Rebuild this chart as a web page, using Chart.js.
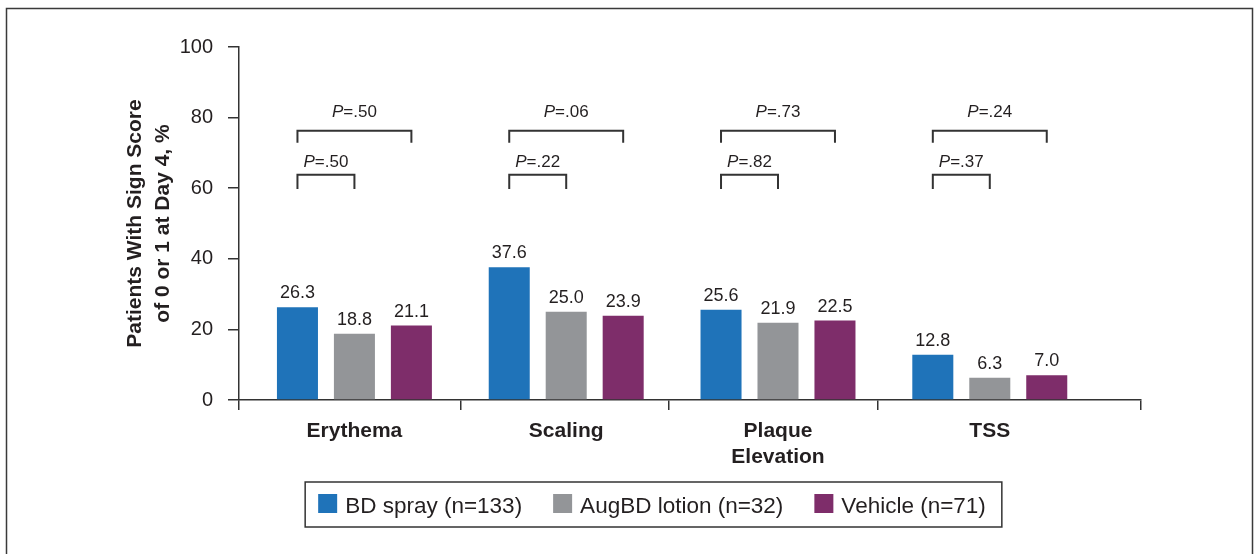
<!DOCTYPE html>
<html>
<head>
<meta charset="utf-8">
<script src="https://cdn.jsdelivr.net/npm/chart.js@4.4.1/dist/chart.umd.min.js"></script>
<style>
  html, body { margin: 0; padding: 0; background: #fff; }
  canvas { display: block; }
</style>
</head>
<body>
<canvas id="grafico" width="1260" height="554"></canvas>
<script>
// Datos
const categorias = ['Erythema', 'Scaling', ['Plaque', 'Elevation'], 'TSS'];
const series = ['BD spray (n=133)', 'AugBD lotion (n=32)', 'Vehicle (n=71)'];
const bdSpray = [26.3, 37.6, 25.6, 12.8];
const augbdLotion = [18.8, 25.0, 21.9, 6.3];
const vehiculo = [21.1, 23.9, 22.5, 7.0];
const pCorto = ['.50', '.22', '.82', '.37'];   // BD spray vs AugBD lotion
const pLargo = ['.50', '.06', '.73', '.24'];   // BD spray vs Vehicle
const ticksY = [0, 20, 40, 60, 80, 100];

const colores = ['#1f73b9', '#939598', '#7e2d6a'];
const TEXTO = '#231f20';
const LINEA = '#333333';
const FUENTE = "'Liberation Sans', Arial, Helvetica, sans-serif";
const X_MIN = -0.545, X_MAX = 3.714;

// marco exterior de la figura
const marco = {
    id: 'marco',
    beforeDraw(chart) {
        const ctx = chart.ctx;
        ctx.save();
        ctx.strokeStyle = '#3a3a3a';
        ctx.lineWidth = 1.5;
        ctx.beginPath();
        ctx.moveTo(6.5, chart.height + 4);
        ctx.lineTo(6.5, 8.5);
        ctx.lineTo(1252.5, 8.5);
        ctx.lineTo(1252.5, chart.height + 4);
        ctx.stroke();
        ctx.restore();
    }
};

// valores sobre las barras y corchetes con P
const etiquetas = {
    id: 'etiquetas',
    afterDatasetsDraw(chart) {
        const ctx = chart.ctx;
        const y = chart.scales.y;
        ctx.save();
        ctx.font = '18px ' + FUENTE;
        ctx.fillStyle = TEXTO;
        ctx.textAlign = 'center';
        ctx.textBaseline = 'alphabetic';
        chart.data.datasets.forEach((ds, d) => {
            chart.getDatasetMeta(d).data.forEach((bar, i) => {
                ctx.fillText(ds.data[i].y.toFixed(1), bar.x, bar.y - 9);
            });
        });

        const m0 = chart.getDatasetMeta(0).data;
        const m1 = chart.getDatasetMeta(1).data;
        const m2 = chart.getDatasetMeta(2).data;
        ctx.strokeStyle = LINEA;
        ctx.lineWidth = 2;

        function corchete(x1, x2, arriba, abajo, texto, base) {
            const yt = y.getPixelForValue(arriba);
            const yb = y.getPixelForValue(abajo);
            ctx.beginPath();
            ctx.moveTo(x1, yb);
            ctx.lineTo(x1, yt);
            ctx.lineTo(x2, yt);
            ctx.lineTo(x2, yb);
            ctx.stroke();

            const cx = (x1 + x2) / 2;
            const yy = y.getPixelForValue(base);
            ctx.font = 'italic 17px ' + FUENTE;
            const wP = ctx.measureText('P').width;
            ctx.font = '17px ' + FUENTE;
            const wR = ctx.measureText('=' + texto).width;
            const x0 = cx - (wP + wR) / 2;
            ctx.textAlign = 'left';
            ctx.font = 'italic 17px ' + FUENTE;
            ctx.fillText('P', x0, yy);
            ctx.font = '17px ' + FUENTE;
            ctx.fillText('=' + texto, x0 + wP, yy);
        }

        categorias.forEach((c, i) => {
            corchete(m0[i].x, m1[i].x, 63.8, 59.8, pCorto[i], 66.1);
            corchete(m0[i].x, m2[i].x, 76.3, 72.9, pLargo[i], 80.1);
        });
        ctx.restore();
    }
};

// leyenda con recuadro
const leyenda = {
    id: 'leyenda',
    afterDraw(chart) {
        const ctx = chart.ctx;
        ctx.save();
        ctx.font = '22.5px ' + FUENTE;
        const caja = 19, sep = 8, hueco = 31;
        const anchos = chart.data.datasets.map(ds => ctx.measureText(ds.label).width);
        const total = anchos.reduce((a, b) => a + b, 0) + 3 * (caja + sep) + 2 * hueco;
        let x = 652 - total / 2;
        ctx.strokeStyle = LINEA;
        ctx.lineWidth = 1.5;
        ctx.strokeRect(x - 13, 482, total + 29, 45);
        ctx.textAlign = 'left';
        ctx.textBaseline = 'alphabetic';
        chart.data.datasets.forEach((ds, d) => {
            ctx.fillStyle = ds.backgroundColor;
            ctx.fillRect(x, 494, caja, caja);
            ctx.fillStyle = TEXTO;
            ctx.fillText(ds.label, x + caja + sep, 513);
            x += caja + sep + anchos[d] + hueco;
        });
        ctx.restore();
    }
};

const ctx = document.getElementById('grafico').getContext('2d');

window.myChart = new Chart(ctx, {
    type: 'bar',
    data: {
        datasets: [bdSpray, augbdLotion, vehiculo].map((valores, d) => ({
            label: series[d],
            data: valores.map((v, i) => ({ x: i, y: v })),
            backgroundColor: colores[d],
            xAxisID: 'x',
            categoryPercentage: 0.807,
            barPercentage: 0.72
        }))
    },
    options: {
        responsive: false,
        animation: false,
        devicePixelRatio: 1,
        layout: { padding: { top: 47, right: 119, bottom: 0, left: 0 } },
        plugins: {
            legend: { display: false },
            tooltip: { enabled: false }
        },
        scales: {
            x: {
                type: 'linear',
                position: 'bottom',
                weight: 1,
                min: X_MIN,
                max: X_MAX,
                offset: false,
                afterBuildTicks: s => { s.ticks = categorias.map((c, i) => ({ value: i })); },
                afterFit: s => { s.height = 144; },
                ticks: {
                    autoSkip: false,
                    maxRotation: 0,
                    padding: 8,
                    color: TEXTO,
                    font: { family: FUENTE, size: 21, weight: 'bold', lineHeight: 1.25 },
                    callback: (v, i) => categorias[i]
                },
                grid: { display: false, drawTicks: false, offset: false },
                border: { display: false }
            },
            xb: {
                type: 'linear',
                position: 'bottom',
                weight: 0,
                min: X_MIN,
                max: X_MAX,
                offset: false,
                afterBuildTicks: s => { s.ticks = [X_MIN, 0.5, 1.485, 2.47, X_MAX].map(v => ({ value: v })); },
                ticks: { display: false },
                grid: { drawOnChartArea: false, drawTicks: true, tickLength: 10, color: LINEA, lineWidth: 1.5, offset: false },
                border: { display: true, color: LINEA, width: 1.5 }
            },
            y: {
                min: 0,
                max: 100,
                afterBuildTicks: s => { s.ticks = ticksY.map(v => ({ value: v })); },
                afterFit: s => { s.width = 239; },
                ticks: { padding: 15, color: TEXTO, font: { family: FUENTE, size: 20 } },
                grid: { drawOnChartArea: false, tickLength: 11, color: LINEA, lineWidth: 1.5 },
                border: { color: LINEA, width: 1.5 },
                title: {
                    display: true,
                    text: ['Patients With Sign Score', 'of 0 or 1 at Day 4, %'],
                    color: TEXTO,
                    font: { family: FUENTE, size: 21, weight: 'bold', lineHeight: 1.3 },
                    padding: { top: 122, bottom: 0 }
                }
            }
        }
    },
    plugins: [marco, etiquetas, leyenda]
});
</script>
</body>
</html>
